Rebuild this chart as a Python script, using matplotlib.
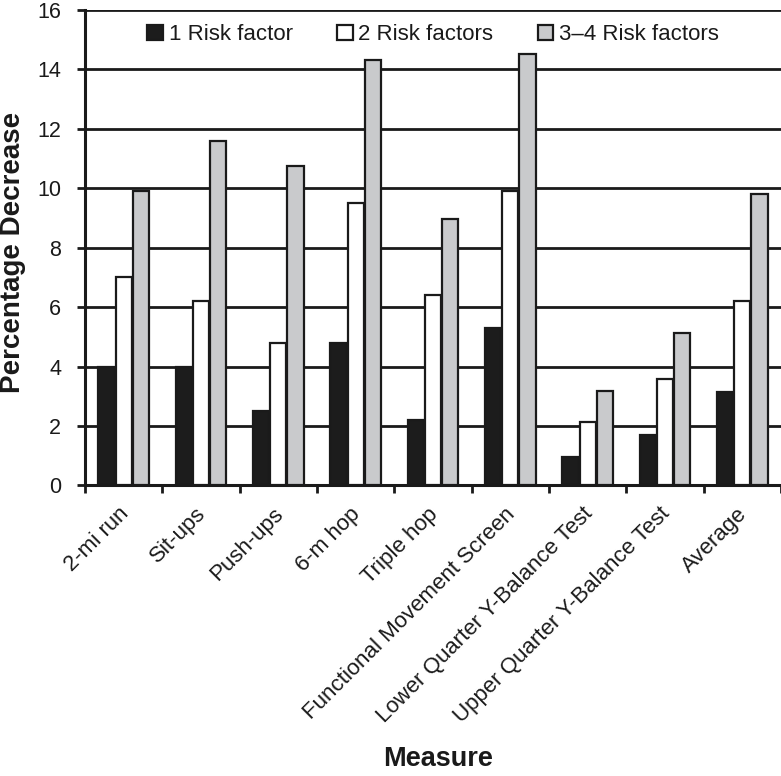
import matplotlib
matplotlib.use("Agg")
import matplotlib.pyplot as plt
import matplotlib.transforms as mtransforms
import numpy as np

categories = ["2-mi run", "Sit-ups", "Push-ups", "6-m hop", "Triple hop",
              "Functional Movement Screen", "Lower Quarter Y-Balance Test",
              "Upper Quarter Y-Balance Test", "Average"]
one_rf = [4.0, 4.0, 2.5, 4.8, 2.2, 5.3, 0.95, 1.7, 3.15]
two_rf = [7.0, 6.2, 4.8, 9.5, 6.4, 9.9, 2.15, 3.57, 6.2]
three_four_rf = [9.9, 11.6, 10.75, 14.3, 8.95, 14.5, 3.18, 5.13, 9.8]
series_labels = ["1 Risk factor", "2 Risk factors", "3\u20134 Risk factors"]
yticks = [0, 2, 4, 6, 8, 10, 12, 14, 16]

plt.rcParams['font.family'] = ['Liberation Sans', 'DejaVu Sans']

fig = plt.figure(figsize=(7.81, 7.76), dpi=100)
ax = fig.add_axes([0.1088, 0.3744, 0.8912, 0.6131])

x = np.arange(len(categories))
w = 0.21
off = 0.222
colors = ["#1c1c1c", "#ffffff", "#c9cacc"]
for vals, o, c, lab in zip([one_rf, two_rf, three_four_rf], [-off, 0, off], colors, series_labels):
    ax.bar(x + o, vals, width=w, color=c, edgecolor="#1a1a1a", linewidth=1.6, label=lab, zorder=3)

ax.set_xlim(-0.5, len(categories) - 0.5)
ax.set_ylim(0, 16)
ax.set_yticks(yticks)
ax.yaxis.grid(True, color="#1a1a1a", linewidth=2.0, zorder=0)
ax.set_axisbelow(True)

# major ticks at category boundaries, minor at centers for labels
ax.set_xticks(np.arange(-0.5, len(categories) + 0.5, 1))
ax.set_xticklabels([])
ax.set_xticks(x, minor=True)
ax.set_xticklabels(categories, minor=True, rotation=45, ha="right", va="top",
                   rotation_mode="anchor", fontsize=16, color="#1a1a1a")
ax.tick_params(axis="x", which="minor", length=0, pad=13)
ax.tick_params(axis="x", which="major", length=6, width=2, direction="out", color="#1a1a1a")
ax.tick_params(axis="y", length=6, width=2, direction="out", labelsize=15.5, color="#1a1a1a",
               labelcolor="#1a1a1a", pad=11)
shift = mtransforms.ScaledTranslation(-4 / 72, 0, fig.dpi_scale_trans)
for lbl in ax.get_xticklabels(minor=True):
    lbl.set_transform(lbl.get_transform() + shift)

for s in ["top", "right"]:
    ax.spines[s].set_visible(False)
for s in ["left", "bottom"]:
    ax.spines[s].set_linewidth(2.2)
    ax.spines[s].set_color("#1a1a1a")

ax.set_ylabel("Percentage Decrease", fontsize=20, fontweight="bold", color="#1a1a1a",
              va="center")
ax.yaxis.set_label_coords((13 - 85) / 696, 0.49)
fig.text(438 / 781, 0.005, "Measure", fontsize=19.5, fontweight="bold", ha="center",
         va="bottom", color="#1a1a1a")

leg = ax.legend(loc="center", bbox_to_anchor=(0.5, 0.947), ncol=3, frameon=False,
                fontsize=16, handlelength=0.7, handleheight=0.7, handletextpad=0.25,
                columnspacing=2.0, borderaxespad=0)
for t in leg.get_texts():
    t.set_color("#1a1a1a")

fig.savefig("out.png", dpi=100, facecolor="white")
